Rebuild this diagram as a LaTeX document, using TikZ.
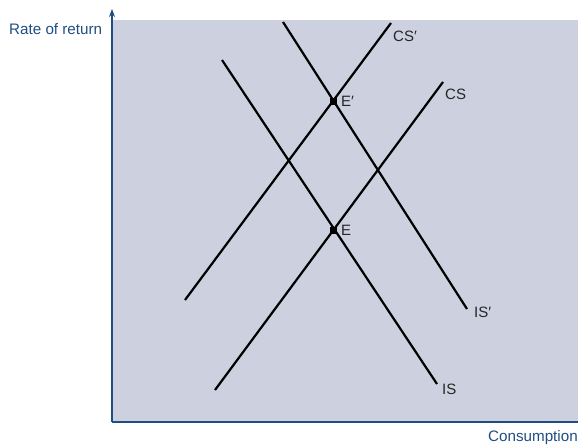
\documentclass[tikz,border=0pt]{standalone}
\usepackage{fontspec}
\setmainfont{Liberation Sans}
\usetikzlibrary{arrows.meta}
\definecolor{panel}{HTML}{CDD0DF}
\definecolor{axisblue}{HTML}{1F4E82}
\begin{document}
\begin{tikzpicture}[x=1pt,y=-1pt,
  curve/.style={line width=2.2pt,black},
  lbl/.style={anchor=west,inner sep=0pt,font=\fontsize{15}{17}\selectfont,text=black!85},
  axlbl/.style={inner sep=0pt,font=\fontsize{15.2}{17}\selectfont,text=axisblue},
  eqdot/.style={fill=black,minimum size=7pt,inner sep=0pt}]
\useasboundingbox (0,0) rectangle (578,447);
\fill[panel] (112,20) rectangle (578,422);
\coordinate (O) at (112,422);
\coordinate (Ytop) at (112,9);
\coordinate (Xend) at (578,422);
\draw[axisblue,line width=1.6pt,-{Stealth[length=8pt,width=6pt]}] (O) -- (Ytop);
\draw[axisblue,line width=1.6pt] (O) -- (Xend);
\node[axlbl,anchor=west] (ylab) at (9,29) {Rate of return};
\node[axlbl,anchor=west] (xlab) at (488,438) {Consumption};
% curves
\coordinate (cs1) at (215,390); \coordinate (cs2) at (443,82);
\coordinate (csp1) at (185,300); \coordinate (csp2) at (391,23);
\coordinate (is1) at (222,60); \coordinate (is2) at (437,384);
\coordinate (isp1) at (283,22); \coordinate (isp2) at (467,309);
\draw[curve] (cs1) -- (cs2);
\draw[curve] (csp1) -- (csp2);
\draw[curve] (is1) -- (is2);
\draw[curve] (isp1) -- (isp2);
\node[eqdot] (E) at (333,230) {};
\node[eqdot] (Ep) at (333,101) {};
\node[lbl] (Elab) at (341,230) {E};
\node[lbl] (Eplab) at (341,101) {E′};
\node[lbl] (CSlab) at (445,94) {CS};
\node[lbl] (CSplab) at (393,36) {CS′};
\node[lbl] (ISlab) at (442,389) {IS};
\node[lbl] (ISplab) at (474,312) {IS′};
\end{tikzpicture}
\end{document}
